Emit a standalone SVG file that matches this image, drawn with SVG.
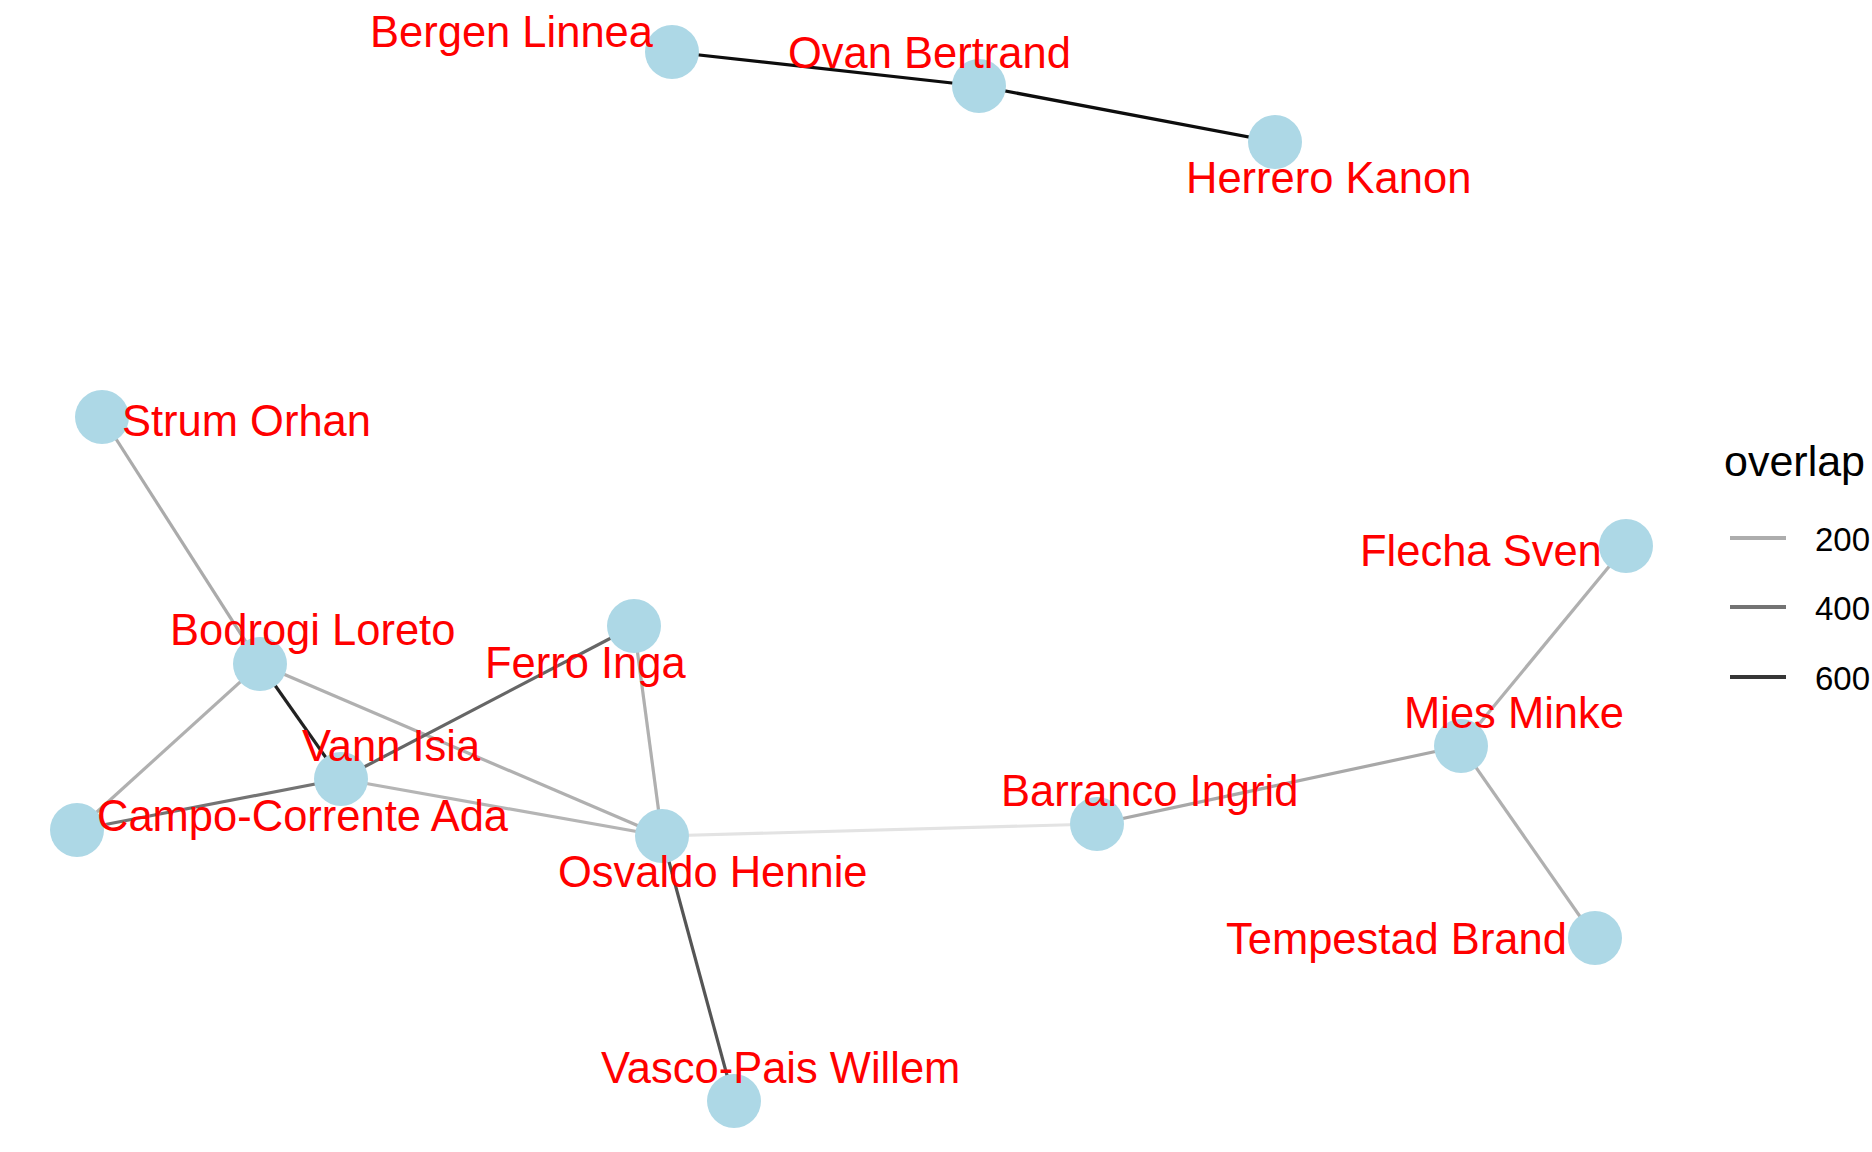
<svg xmlns="http://www.w3.org/2000/svg" width="1872" height="1152" viewBox="0 0 1872 1152">
<style>
.e{fill:none;stroke-width:3.2;stroke-linecap:butt}
.n circle{fill:#ADD8E6}
.n text{font-family:"Liberation Sans",Arial,sans-serif;font-size:43.5px;fill:#FF0000}
.lg{font-family:"Liberation Sans",Arial,sans-serif;fill:#000}
</style>
<rect width="1872" height="1152" fill="#ffffff"/>
<g id="edges">
<line class="e" x1="672" y1="52" x2="979" y2="86" stroke="#0d0d0d"/>
<line class="e" x1="979" y1="86" x2="1275" y2="142" stroke="#0d0d0d"/>
<line class="e" x1="102" y1="417" x2="260" y2="664" stroke="#ababab"/>
<line class="e" x1="260" y1="664" x2="341" y2="779" stroke="#222222"/>
<line class="e" x1="260" y1="664" x2="77" y2="830" stroke="#b0b0b0"/>
<line class="e" x1="260" y1="664" x2="662" y2="836" stroke="#b0b0b0"/>
<line class="e" x1="341" y1="779" x2="634" y2="626" stroke="#666666"/>
<line class="e" x1="341" y1="779" x2="77" y2="830" stroke="#747474"/>
<line class="e" x1="341" y1="779" x2="662" y2="836" stroke="#b5b5b5"/>
<line class="e" x1="634" y1="626" x2="662" y2="836" stroke="#b0b0b0"/>
<line class="e" x1="662" y1="836" x2="1097" y2="824" stroke="#e3e3e3"/>
<line class="e" x1="662" y1="836" x2="734" y2="1101" stroke="#555555"/>
<line class="e" x1="1097" y1="824" x2="1461" y2="746" stroke="#a8a8a8"/>
<line class="e" x1="1461" y1="746" x2="1626" y2="546" stroke="#b0b0b0"/>
<line class="e" x1="1461" y1="746" x2="1595" y2="938" stroke="#b0b0b0"/>
</g>
<g id="nodes">
<g id="n-bergen" class="n"><circle cx="672" cy="52" r="27"/></g>
<g id="n-ovan" class="n"><circle cx="979" cy="86" r="27"/></g>
<g id="n-herrero" class="n"><circle cx="1275" cy="142" r="27"/></g>
<g id="n-strum" class="n"><circle cx="102" cy="417" r="27"/></g>
<g id="n-flecha" class="n"><circle cx="1626" cy="546" r="27"/></g>
<g id="n-bodrogi" class="n"><circle cx="260" cy="664" r="27"/></g>
<g id="n-ferro" class="n"><circle cx="634" cy="626" r="27"/></g>
<g id="n-mies" class="n"><circle cx="1461" cy="746" r="27"/></g>
<g id="n-vann" class="n"><circle cx="341" cy="779" r="27"/></g>
<g id="n-barranco" class="n"><circle cx="1097" cy="824" r="27"/></g>
<g id="n-campo" class="n"><circle cx="77" cy="830" r="27"/></g>
<g id="n-osvaldo" class="n"><circle cx="662" cy="836" r="27"/></g>
<g id="n-tempestad" class="n"><circle cx="1595" cy="938" r="27"/></g>
<g id="n-vasco" class="n"><circle cx="734" cy="1101" r="27"/></g>
</g>
<g id="labels" class="n">
<text x="370" y="47">Bergen Linnea</text>
<text x="788" y="68">Ovan Bertrand</text>
<text x="1186" y="193">Herrero Kanon</text>
<text x="122" y="436">Strum Orhan</text>
<text x="1360" y="566">Flecha Sven</text>
<text x="170" y="645">Bodrogi Loreto</text>
<text x="485" y="678">Ferro Inga</text>
<text x="1404" y="728">Mies Minke</text>
<text x="302" y="761">Vann Isia</text>
<text x="1001" y="806">Barranco Ingrid</text>
<text x="97" y="831">Campo-Corrente Ada</text>
<text x="558" y="887">Osvaldo Hennie</text>
<text x="1226" y="954">Tempestad Brand</text>
<text x="601" y="1083">Vasco-Pais Willem</text>
</g>
<g id="legend">
<text class="lg" x="1724" y="476" font-size="43">overlap</text>
<line x1="1730" y1="538" x2="1786" y2="538" stroke="#adadad" stroke-width="4"/>
<line x1="1730" y1="607" x2="1786" y2="607" stroke="#737373" stroke-width="4"/>
<line x1="1730" y1="677" x2="1786" y2="677" stroke="#363636" stroke-width="4"/>
<text class="lg" x="1815" y="551" font-size="33">200</text>
<text class="lg" x="1815" y="620" font-size="33">400</text>
<text class="lg" x="1815" y="690" font-size="33">600</text>
</g>
</svg>
